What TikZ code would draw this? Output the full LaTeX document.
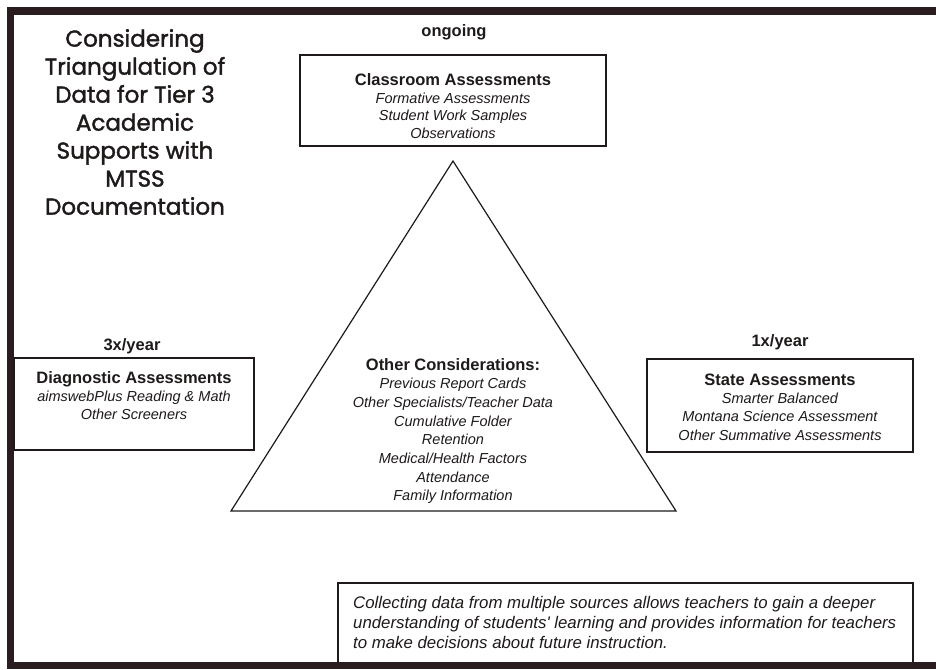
\documentclass[tikz,border=0pt]{standalone}
\usepackage{fontspec}
\setmainfont{Liberation Sans}
\newfontfamily\titlefont{Poppins}[FakeBold=1.6]
\newcommand{\straightquote}{\XeTeXglyph\the\XeTeXcharglyph"27\relax}
\definecolor{framec}{HTML}{2B1D1F}
\definecolor{inkc}{HTML}{1E1A1A}
\begin{document}
\begin{tikzpicture}[x=1pt,y=-1pt,
  boxline/.style={draw=inkc,line width=1.5pt},
  blocktext/.style={align=center,inner sep=0pt,text=inkc},
  freq/.style={font=\fontsize{16.5}{18}\selectfont\bfseries,inner sep=0pt,text=inkc}]
\useasboundingbox (0,0) rectangle (936,669);
\fill[white] (0,0) rectangle (936,669);
% frame
\fill[framec] (7,7) rectangle (936,15);
\fill[framec] (7,7) rectangle (14,669);
\fill[framec] (7,662) rectangle (936,669);
% title
\node[inner sep=0pt,align=center,text=inkc,font=\fontsize{23}{28}\selectfont\titlefont] (title) at (135,122)
 {Considering\\Triangulation of\\Data for Tier 3\\Academic\\Supports with\\MTSS\\Documentation};
% classroom
\node[freq] (ongoing) at (454,32) {ongoing};
\draw[boxline] (300,55) rectangle (606,146);
\node[blocktext,font=\fontsize{14.5}{17.5}\selectfont\itshape] (class) at (453,106)
 {{\fontsize{16.5}{17.5}\selectfont\bfseries\upshape Classroom Assessments}\\Formative Assessments\\Student Work Samples\\Observations};
% triangle
\coordinate (apex) at (453,161);
\coordinate (bl) at (231,511);
\coordinate (br) at (676,511);
\draw[draw=inkc,line width=1.2pt,line join=miter] (apex) -- (bl) -- (br) -- cycle;
\node[blocktext,font=\fontsize{14.5}{18.7}\selectfont\itshape] (other) at (453,431)
 {{\fontsize{16.5}{18.7}\selectfont\bfseries\upshape Other Considerations:}\\Previous Report Cards\\Other Specialists/Teacher Data\\Cumulative Folder\\Retention\\Medical/Health Factors\\Attendance\\Family Information};
% diagnostic
\node[freq] (three) at (132,346) {3x/year};
\draw[boxline] (14,358) rectangle (254,450);
\node[blocktext,font=\fontsize{14.5}{18}\selectfont\itshape] (diag) at (134,396)
 {{\fontsize{16.5}{18}\selectfont\bfseries\upshape Diagnostic Assessments}\\aimswebPlus Reading \& Math\\Other Screeners};
% state
\node[freq] (one) at (780,342) {1x/year};
\draw[boxline] (647,359) rectangle (913,452);
\node[blocktext,font=\fontsize{14.5}{18.3}\selectfont\itshape] (state) at (780,407)
 {{\fontsize{16.5}{18.3}\selectfont\bfseries\upshape State Assessments}\\Smarter Balanced\\Montana Science Assessment\\Other Summative Assessments};
% bottom note
\draw[draw=inkc,line width=1.2pt] (338,662) -- (338,583) -- (913,583) -- (913,662);
\node[inner sep=0pt,align=left,anchor=west,text=inkc,font=\fontsize{16.8}{20}\selectfont\itshape] (note) at (353,622)
 {Collecting data from multiple sources allows teachers to gain a deeper\\understanding of students\straightquote{} learning and provides information for teachers\\to make decisions about future instruction.};
\end{tikzpicture}
\end{document}
